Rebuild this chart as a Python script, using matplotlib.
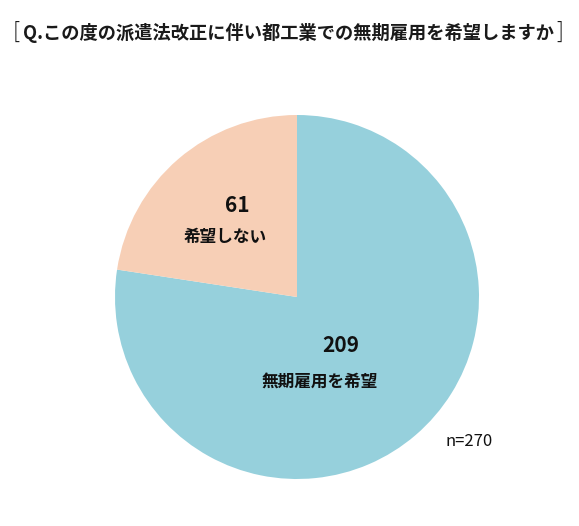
import matplotlib
matplotlib.use("Agg")
import matplotlib.pyplot as plt

plt.rcParams['font.family'] = ['Noto Sans CJK JP', 'DejaVu Sans']

title = "Q.この度の派遣法改正に伴い都工業での無期雇用を希望しますか"
labels = ["無期雇用を希望", "希望しない"]
counts = [209, 61]
colors = ["#96D0DC", "#F7CFB6"]
total_label = "n=270"

W, H = 579, 526
fig = plt.figure(figsize=(W / 100, H / 100), dpi=100)
ax = fig.add_axes([0, 0, 1, 1])

# pie in pixel units, y measured from the bottom
cx, cy, r = 297, H - 297, 182
ax.pie(counts, colors=colors, startangle=90, counterclock=False,
       center=(cx, cy), radius=r, wedgeprops=dict(linewidth=0))
ax.set_xlim(0, W)
ax.set_ylim(0, H)
ax.set_aspect('equal')
ax.axis('off')

ax.text(288, H - 33, title, ha='center', va='center', fontsize=13.15,
        fontweight='bold', color='#1a1a1a')
# thin brackets around the question
ax.text(16, H - 32, "[", ha='center', va='center', fontsize=16,
        fontweight='light', color='#1a1a1a')
ax.text(560, H - 32, "]", ha='center', va='center', fontsize=16,
        fontweight='light', color='#1a1a1a')

# value + name for each slice
ax.text(341, H - 346, str(counts[0]), ha='center', va='center',
        fontsize=15, fontweight='bold', color='#111111')
ax.text(320, H - 382, labels[0], ha='center', va='center',
        fontsize=12, fontweight='bold', color='#111111')
ax.text(237, H - 205, str(counts[1]), ha='center', va='center',
        fontsize=15, fontweight='bold', color='#111111')
ax.text(225, H - 237, labels[1], ha='center', va='center',
        fontsize=12, fontweight='bold', color='#111111')

ax.text(469, H - 442, total_label, ha='center', va='center',
        fontsize=12, color='#111111')

fig.savefig("out.png", dpi=100)
